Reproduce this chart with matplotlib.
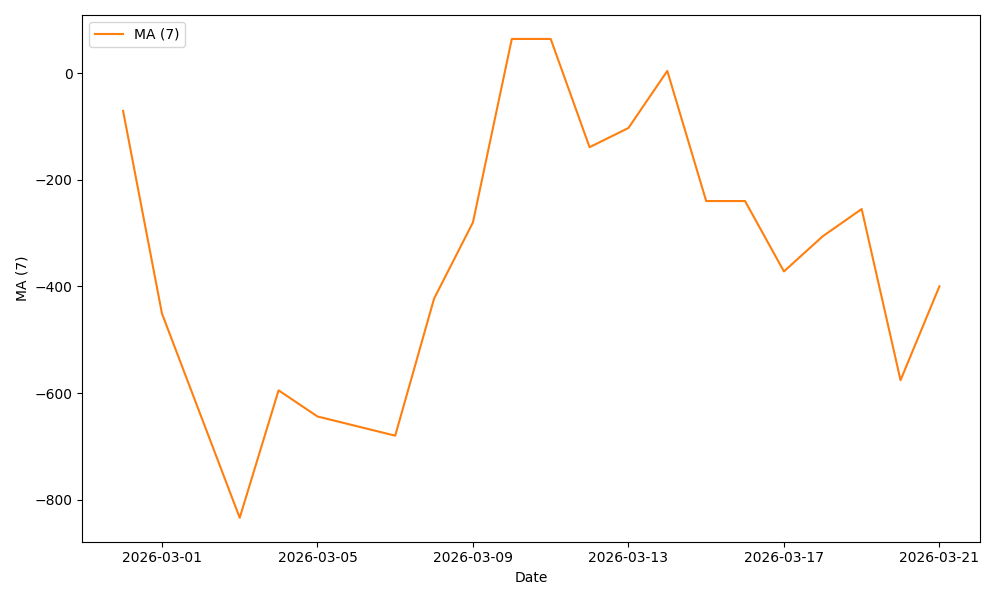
import numpy as np
import pandas as pd
import matplotlib
matplotlib.use("Agg")
import matplotlib.pyplot as plt
import matplotlib.dates as mdates

dates = pd.to_datetime([
    "2026-02-28", "2026-03-01", "2026-03-03", "2026-03-04", "2026-03-05",
    "2026-03-07", "2026-03-08", "2026-03-09", "2026-03-10", "2026-03-11",
    "2026-03-12", "2026-03-13", "2026-03-14", "2026-03-15", "2026-03-16",
    "2026-03-17", "2026-03-18", "2026-03-19", "2026-03-20", "2026-03-21",
])
ma7 = [-71, -451, -834, -595, -644,
       -680, -423, -280, 64, 64,
       -139, -103, 4, -240, -240,
       -372, -306, -255, -576, -400]

fig, ax = plt.subplots(figsize=(10, 6), dpi=100)
ax.plot(dates, ma7, color="C1", label="MA (7)")
ax.xaxis.set_major_locator(mdates.DayLocator(bymonthday=range(1, 32, 4)))
ax.xaxis.set_major_formatter(mdates.DateFormatter("%Y-%m-%d"))
ax.set_xlabel("Date")
ax.set_ylabel("MA (7)")
ax.legend(loc="upper left")
fig.tight_layout()
fig.savefig("out.png")
